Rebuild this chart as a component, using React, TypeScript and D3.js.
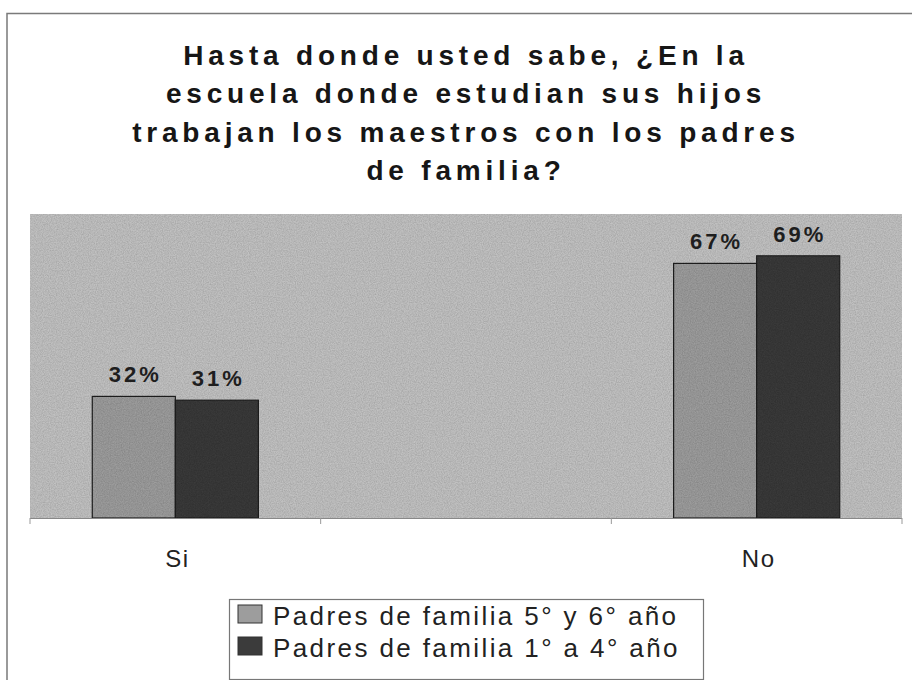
import React from 'react';
import * as d3 from 'd3';

// category slots on the x axis (the middle one is empty in the original chart)
const categories = ['Si', '', 'No'];
const seriesNames = ['Padres de familia 5° y 6° año', 'Padres de familia 1° a 4° año'];
const grade5y6 = [32, null, 67];
const grade1a4 = [31, null, 69];
const titleLines = [
	'Hasta donde usted sabe, ¿En la',
	'escuela donde estudian sus hijos',
	'trabajan los maestros con los padres',
	'de familia?',
];

const colors = ['#9d9d9d', '#3b3b3b'];
const font = '"Liberation Sans", Arial, Helvetica, sans-serif';

const W = 912;
const H = 680;
const plot = { left: 30, right: 902, top: 214, bottom: 518 };

export default function App() {
	const x0 = d3.scaleBand().domain(categories).range([plot.left, plot.right]).padding(0);
	const x1 = d3.scaleBand().domain(seriesNames).range([0, x0.bandwidth()]).paddingInner(0).paddingOuter(0.75);
	const y = d3.scaleLinear().domain([0, 80]).range([plot.bottom, plot.top]);

	const values = [grade5y6, grade1a4];
	const bars = [];
	categories.forEach((cat, ci) => {
		seriesNames.forEach((s, si) => {
			const v = values[si][ci];
			if (v == null) return;
			bars.push({ key: `${ci}-${si}`, x: x0(cat) + x1(s), w: x1.bandwidth(), v, si });
		});
	});

	const tickXs = categories.map((c) => x0(c)).concat([plot.right]);

	return (
		<svg width={W} height={H} style={{ position: 'absolute', left: 0, top: 0, background: '#fff' }} fontFamily={font}>
			<defs>
				{/* grainy look of the scanned original */}
				<filter id="grain" x="0" y="0" width="100%" height="100%">
					<feTurbulence type="fractalNoise" baseFrequency="0.85" numOctaves={2} seed={3} result="n" />
					<feColorMatrix in="n" type="matrix" values="0 0 0 0 0  0 0 0 0 0  0 0 0 0 0  0 0 0 0.45 -0.1" result="dots" />
					<feComposite in="dots" in2="SourceGraphic" operator="in" result="d2" />
					<feMerge>
						<feMergeNode in="SourceGraphic" />
						<feMergeNode in="d2" />
					</feMerge>
				</filter>
			</defs>

			{/* outer chart frame */}
			<rect x={7} y={13.5} width={W + 10} height={H + 10} fill="#fff" stroke="#7a7a7a" strokeWidth={1.5} />

			{/* title */}
			<text textAnchor="middle" fontSize={28} fontWeight="bold" fill="#161616" letterSpacing={4.8}>
				{titleLines.map((l, i) => (
					<tspan key={i} x={466} y={65 + i * 38.3}>{l}</tspan>
				))}
			</text>

			{/* plot area */}
			<g filter="url(#grain)">
				<rect x={plot.left} y={plot.top} width={plot.right - plot.left} height={plot.bottom - plot.top} fill="#c2c2c2" />
				{bars.map((b) => (
					<rect key={b.key} x={b.x} y={y(b.v)} width={b.w} height={y(0) - y(b.v)} fill={colors[b.si]} stroke="#222" strokeWidth={1.2} />
				))}
			</g>

			{bars.map((b) => (
				<text key={b.key} x={b.x + b.w / 2 + 1.5} y={y(b.v) - 14} textAnchor="middle" fontSize={22} fontWeight="bold" fill="#1e1e1e" letterSpacing={3}>
					{`${b.v}%`}
				</text>
			))}

			{/* x axis */}
			<line x1={plot.left} x2={plot.right} y1={plot.bottom + 0.5} y2={plot.bottom + 0.5} stroke="#888" />
			{tickXs.map((t, i) => (
				<line key={i} x1={t} x2={t} y1={plot.bottom} y2={plot.bottom + 6} stroke="#999" />
			))}
			{categories.map((c) => (
				<text key={c || 'empty'} x={x0(c) + x0.bandwidth() / 2 + 2} y={567} textAnchor="middle" fontSize={24} fill="#222" letterSpacing={1.5}>
					{c}
				</text>
			))}

			{/* legend */}
			<rect x={229.5} y={599.5} width={474} height={80} fill="#fff" stroke="#777" strokeWidth={1.2} />
			{seriesNames.map((s, i) => (
				<g key={s}>
					<rect x={238} y={605 + i * 32} width={24} height={18} fill={colors[i]} stroke="#333" />
					<text x={273} y={625 + i * 32} fontSize={26} fill="#222" letterSpacing={2.4}>{s}</text>
				</g>
			))}
		</svg>
	);
}
